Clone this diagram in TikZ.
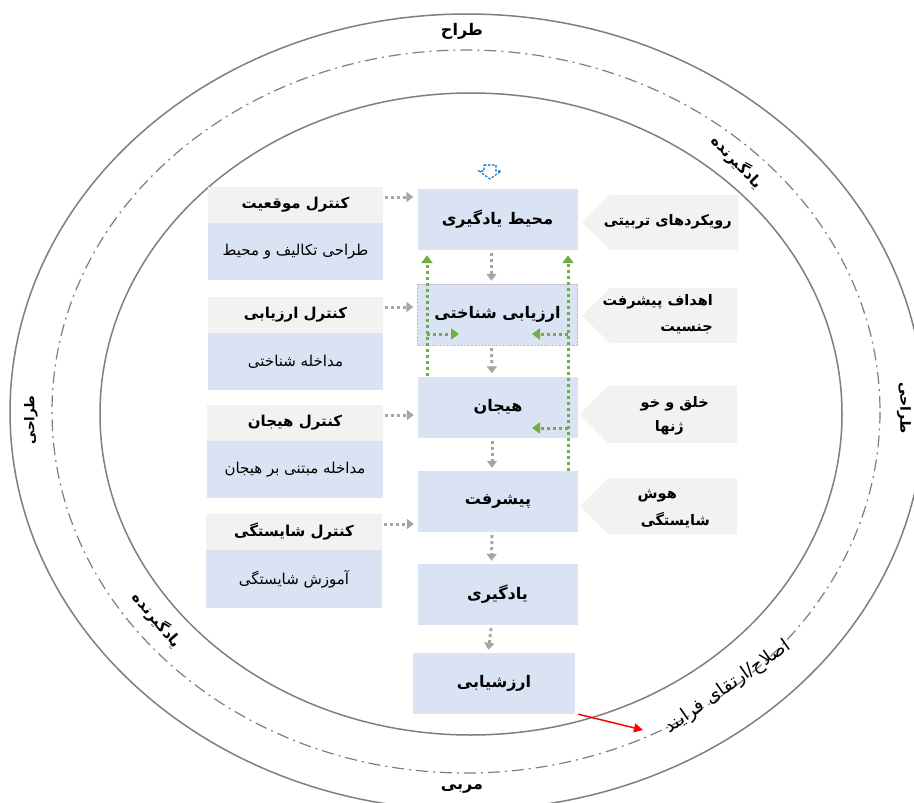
\documentclass[tikz,border=0pt]{standalone}
\usepackage{fontspec}
\TeXXeTstate=1
\newfontfamily\fa[Script=Arabic]{DejaVu Sans}
\usetikzlibrary{arrows.meta,calc}
\definecolor{boxblue}{HTML}{DAE3F3}
\definecolor{hdrgray}{HTML}{F2F2F2}
\definecolor{ringgray}{HTML}{7F7F7F}
\definecolor{arrgray}{HTML}{A6A6A6}
\definecolor{grn}{HTML}{70AD47}
\definecolor{iconblue}{HTML}{0070C0}
\newcommand\farsib[1]{{\fa\bfseries\beginR #1\endR}}
\newcommand\farsir[1]{{\fa\beginR #1\endR}}
\tikzset{
  ring/.style={draw=ringgray, line width=1.5pt},
  ringdd/.style={draw=ringgray, line width=1.2pt, dash pattern=on 12pt off 5pt on 2pt off 5pt},
  cbox/.style={fill=boxblue, minimum width=160pt, minimum height=61pt, inner sep=0pt, font=\fontsize{16}{19}\selectfont},
  hbox/.style={fill=hdrgray, minimum width=175pt, minimum height=36pt, inner sep=0pt, font=\fontsize{15}{18}\selectfont},
  bbox/.style={fill=boxblue, minimum width=175pt, minimum height=57pt, inner sep=0pt, font=\fontsize{15}{18}\selectfont},
  ptxt/.style={inner sep=0pt, font=\fontsize{14.5}{17}\selectfont},
  rtxt/.style={inner sep=0pt, font=\fontsize{16}{19}\selectfont},
  garr/.style={draw=arrgray, line width=3pt, dash pattern=on 3pt off 3pt, -{Triangle[width=10pt,length=7pt]}},
  grarr/.style={draw=grn, line width=3pt, dash pattern=on 3pt off 3pt, -{Triangle[width=11pt,length=8pt]}},
  pent/.style={fill=hdrgray}
}
\begin{document}
\begin{tikzpicture}[x=1pt,y=-1pt]
\clip (0,0) rectangle (914,803);
\fill[white] (0,0) rectangle (914,803);
% rings
\draw[ring] (467,412) ellipse [x radius=457, y radius=398];
\draw[ringdd] (466,411.5) ellipse [x radius=414, y radius=361.5];
\draw[ring] (471,414) ellipse [x radius=371, y radius=321];
% ring labels
\node[rtxt] (tTop) at (462,31) {\farsib{طراح}};
\node[rtxt] (tBot) at (462,789) {\farsib{مربی}};
\node[rtxt, font=\fontsize{13.5}{16}\selectfont, rotate=90] (tLeft) at (31,420) {\farsib{طراحی}};
\node[rtxt, font=\fontsize{14}{16}\selectfont, rotate=-90] (tRight) at (904,408) {\farsib{طراحی}};
\node[rtxt, font=\fontsize{15}{18}\selectfont, rotate=-46] (tUR) at (737,162) {\farsib{یادگیرنده}};
\node[rtxt, font=\fontsize{15}{18}\selectfont, rotate=-50] (tLL) at (157,620) {\farsib{یادگیرنده}};
\node[rtxt, font=\fontsize{18.5}{21}\selectfont, rotate=35] (tLR) at (728,687) {\farsir{اصلاح/ارتقای فرایند}};
% center column
\node[cbox] (c1) at (497.5,219.5) {\farsib{محیط یادگیری}};
\node[cbox, draw=arrgray!70, densely dotted] (c2) at (497.5,314.5) {\farsib{ارزیابی شناختی}};
\node[cbox] (c3) at (498,407) {\farsib{هیجان}};
\node[cbox] (c4) at (498,501.5) {\farsib{پیشرفت}};
\node[cbox] (c5) at (497.5,594.5) {\farsib{یادگیری}};
\node[cbox, minimum width=162pt] (c6) at (494,683.5) {\farsib{ارزشیابی}};
\foreach \a/\b in {c1/c2,c2/c3,c3/c4,c4/c5,c5/c6}
  \draw[garr, shorten <=3pt, shorten >=3pt] ([xshift=-6pt]\a.south) -- ([xshift=-6pt]\b.north);
% left boxes
\node[hbox] (h1) at (295.5,205) {\farsib{کنترل موقعیت}};
\node[bbox, anchor=north] (b1) at (h1.south) {\farsir{طراحی تکالیف و محیط}};
\node[hbox] (h2) at (295.5,315) {\farsib{کنترل ارزیابی}};
\node[bbox, anchor=north] (b2) at (h2.south) {\farsir{مداخله شناختی}};
\node[hbox, minimum width=176pt] (h3) at (295,423) {\farsib{کنترل هیجان}};
\node[bbox, minimum width=176pt, anchor=north] (b3) at (h3.south) {\farsir{مداخله مبتنی بر هیجان}};
\node[hbox, minimum width=176pt] (h4) at (294,532) {\farsib{کنترل شایستگی}};
\node[bbox, minimum width=176pt, minimum height=58pt, anchor=north] (b4) at (h4.south) {\farsir{آموزش شایستگی}};
\foreach \h/\c in {h1/c1,h2/c2,h3/c3,h4/c4}{
  \coordinate (s\h) at ([xshift=2pt,yshift=8pt]\h.east);
  \draw[garr, shorten >=4pt] (s\h) -- (s\h -| \c.west);
}
% right pentagons
\fill[pent] (738,195) -- (610,195) -- (582,222.5) -- (610,250) -- (738,250) -- cycle;
\fill[pent] (737,288) -- (610,288) -- (582,315.5) -- (610,343) -- (737,343) -- cycle;
\fill[pent] (737,386) -- (608,386) -- (580,414.5) -- (608,443) -- (737,443) -- cycle;
\fill[pent] (737,478) -- (608,478) -- (580,506) -- (608,534) -- (737,534) -- cycle;
\node[ptxt, anchor=east] (p1) at (732,222) {\farsib{رویکردهای تربیتی}};
\node[ptxt, anchor=east] (p2a) at (713,302) {\farsib{اهداف پیشرفت}};
\node[ptxt, anchor=east] (p2b) at (713,329) {\farsib{جنسیت}};
\node[ptxt, anchor=east] (p3a) at (709,404) {\farsib{خلق و خو}};
\node[ptxt, anchor=east] (p3b) at (684,428) {\farsib{ژنها}};
\node[ptxt, anchor=east] (p4a) at (677,496) {\farsib{هوش}};
\node[ptxt, anchor=east] (p4b) at (710,520) {\farsib{شایستگی}};
% green feedback arrows
\coordinate (gL) at (427,0);
\coordinate (gR) at (568,0);
\draw[grarr, shorten >=5pt] (gL |- c3.north) -- (gL |- c1.south);
\draw[grarr, shorten >=5pt] (gR |- c4.north) -- (gR |- c1.south);
\coordinate (gLb) at (427,334);
\coordinate (gLe) at (459,334);
\draw[grarr] (gLb) -- (gLe);
\coordinate (gRb) at (568,334);
\coordinate (gRe) at (532,334);
\draw[grarr] (gRb) -- (gRe);
\coordinate (gRc) at (568,428);
\coordinate (gRd) at (532,428);
\draw[grarr] (gRc) -- (gRd);
% blue icon
\draw[iconblue, line width=1.1pt, dash pattern=on 2.5pt off 1.5pt]
  (484,165) -- (496,165) -- (496,171) -- (501,171) -- (490,179) -- (479,171) -- (484,171) -- cycle;
% red arrow
\coordinate (redEnd) at (643,730);
\draw[red, line width=1.5pt, -{Triangle[width=9pt,length=9pt]}] ([xshift=3pt]c6.south east) -- (redEnd);
\end{tikzpicture}
\end{document}
